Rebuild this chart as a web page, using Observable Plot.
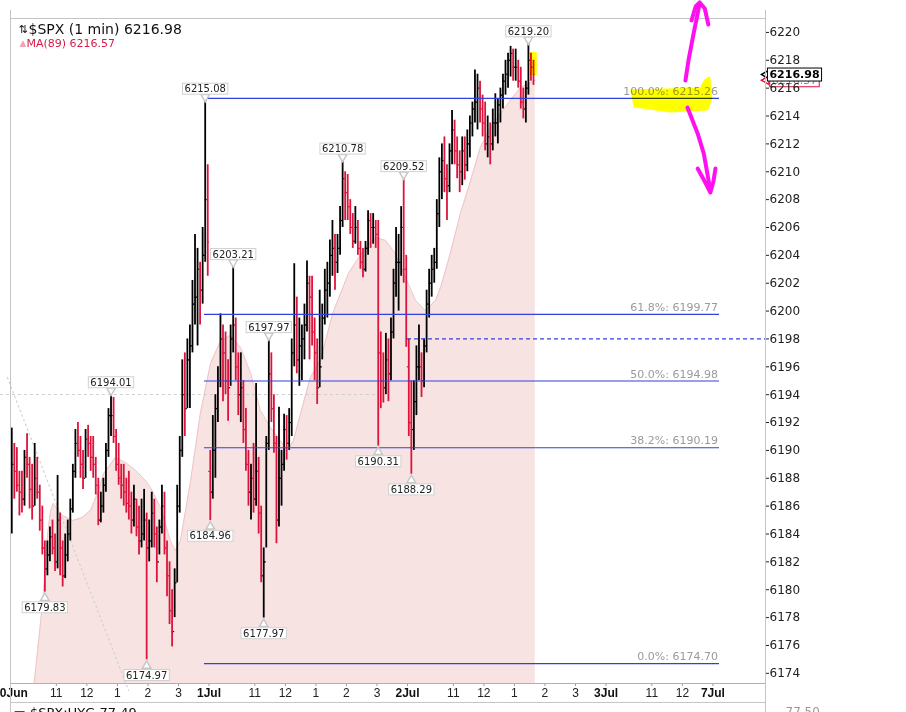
<!DOCTYPE html>
<html><head><meta charset="utf-8">
<script src="https://cdn.jsdelivr.net/npm/d3@7"></script>
<script src="https://cdn.jsdelivr.net/npm/@observablehq/plot@0.6"></script>
<style>
html,body{margin:0;padding:0;background:#fff;}
#chart{width:906px;height:712px;overflow:hidden;position:relative;}
#chart svg{display:block;}
</style></head><body><div id="chart"></div>
<script>
// ---------- data (x = trading minutes since 30 Jun 9:30, y = price) ----------
const dayStarts = [0, 390, 780];          // session starts: 30 Jun, 1 Jul, 2 Jul
const dayOpens = [6188.0, 6188.5, 6196.0];
const barMinutes = 5;
// [high, low, close] per 5-minute bar
const jun30Bars = [
 [6191.6,6184.0,6189.0],[6190.5,6186.5,6188.5],[6190.2,6187.0,6187.5],[6188.5,6185.3,6187.0],
 [6188.5,6185.5,6186.5],[6190.0,6186.0,6189.5],[6191.2,6188.0,6189.0],[6189.5,6185.8,6187.2],
 [6189.0,6185.0,6186.0],[6190.5,6186.0,6188.0],[6189.5,6186.5,6187.0],[6187.5,6184.2,6185.0],
 [6186.0,6182.5,6183.0],[6183.5,6179.83,6181.5],[6183.5,6181.0,6182.5],[6184.5,6182.0,6183.8],
 [6185.0,6182.5,6183.0],[6184.0,6181.3,6182.0],[6188.2,6181.5,6185.0],[6185.5,6181.0,6183.0],
 [6183.5,6180.2,6181.0],[6184.0,6180.8,6182.5],[6185.0,6182.0,6184.0],[6186.5,6183.5,6185.8],
 [6189.0,6185.5,6188.5],[6191.5,6188.0,6190.5],[6192.0,6189.5,6190.0],[6191.0,6188.0,6189.0],
 [6190.0,6187.2,6188.0],[6191.5,6188.0,6190.8],[6191.8,6189.5,6190.5],[6191.0,6188.5,6189.5],
 [6191.0,6188.0,6189.0],[6189.5,6186.8,6187.5],[6188.0,6184.6,6185.0],[6187.0,6184.8,6186.0],
 [6188.0,6185.5,6187.5],[6190.5,6187.0,6190.0],[6193.0,6189.5,6192.5],[6194.01,6191.0,6192.5],
 [6193.8,6190.5,6191.0],[6191.5,6188.5,6189.0],[6190.5,6187.5,6188.0],[6189.0,6186.5,6187.5],
 [6189.0,6186.0,6187.0],[6188.0,6185.5,6186.2],[6188.5,6185.0,6186.0],[6187.0,6184.0,6185.0],
 [6187.5,6184.5,6186.5],[6186.5,6183.8,6184.5],[6186.0,6182.5,6183.5],[6186.5,6183.0,6184.0],
 [6187.2,6183.5,6185.0],[6185.5,6174.97,6183.0],[6185.0,6182.0,6183.5],[6187.0,6183.0,6185.5],
 [6186.5,6183.0,6184.0],[6184.5,6180.5,6182.0],[6185.0,6182.5,6184.5],[6187.5,6184.0,6186.0],
 [6187.0,6182.5,6183.0],[6183.5,6179.5,6181.0],[6182.0,6177.5,6178.5],[6180.0,6175.9,6177.0],
 [6181.5,6178.0,6180.5],[6187.5,6180.5,6186.0],[6191.0,6185.5,6190.0],[6196.5,6189.5,6194.0],
 [6197.0,6191.0,6193.0],[6198.0,6193.0,6196.5],[6199.0,6193.0,6197.5],[6202.2,6197.0,6200.5],
 [6205.5,6199.0,6201.0],[6204.5,6197.5,6203.0],[6203.5,6199.0,6201.5],[6206.0,6200.5,6204.0],
 [6215.08,6203.5,6208.0],[6210.5,6202.5,6204.95]
];
const jul1Bars = [
 [6190.0,6184.96,6187.0],[6192.5,6186.5,6190.0],[6194.0,6188.0,6193.0],[6196.0,6192.0,6195.0],
 [6199.8,6194.5,6198.0],[6199.0,6193.5,6197.0],[6198.5,6194.0,6195.0],[6196.5,6192.1,6194.5],
 [6199.0,6194.6,6198.0],[6203.21,6197.0,6199.0],[6199.5,6195.0,6196.0],[6197.0,6192.5,6194.0],
 [6197.0,6192.0,6194.5],[6195.0,6190.5,6191.5],[6193.0,6188.5,6189.0],[6190.0,6186.0,6187.0],
 [6189.0,6185.0,6188.0],[6190.5,6185.5,6186.5],[6194.8,6186.0,6188.5],[6189.5,6184.0,6185.5],
 [6186.0,6180.5,6181.0],[6183.0,6177.97,6182.0],[6191.0,6183.0,6190.5],[6197.97,6190.0,6195.5],
 [6197.0,6192.0,6193.0],[6194.0,6189.8,6190.5],[6191.0,6183.3,6185.0],[6193.1,6184.5,6188.0],
 [6190.0,6186.0,6189.0],[6192.6,6188.5,6191.5],[6192.5,6189.3,6190.5],[6193.0,6190.0,6192.0],
 [6198.0,6191.0,6197.0],[6203.4,6196.0,6199.0],[6201.0,6195.5,6196.5],[6199.5,6194.6,6197.5],
 [6199.0,6195.0,6198.0],[6200.5,6196.5,6199.0],[6203.6,6198.5,6202.0],[6202.5,6196.5,6201.0],
 [6202.5,6197.5,6198.5],[6199.5,6195.0,6197.0],[6198.0,6193.3,6194.5],[6201.5,6194.5,6196.0],
 [6200.5,6196.5,6199.5],[6203.0,6199.0,6201.5],[6203.5,6199.5,6202.0],[6205.1,6201.0,6204.0],
 [6206.5,6202.5,6204.5],[6205.5,6201.5,6203.5],[6205.5,6202.7,6204.5],[6207.5,6204.0,6206.5],
 [6210.78,6206.0,6209.5],[6210.0,6206.5,6208.5],[6209.8,6206.5,6207.5],[6208.0,6205.5,6206.0],
 [6207.0,6204.5,6205.0],[6207.5,6204.8,6206.0],[6206.5,6204.0,6204.5],[6205.0,6203.0,6203.5],
 [6204.5,6202.4,6203.0],[6205.0,6202.8,6204.5],[6207.2,6204.0,6206.5],[6207.0,6204.5,6206.0],
 [6207.0,6204.8,6206.0],[6206.5,6204.5,6205.5],[6206.5,6190.31,6197.0],[6198.5,6193.0,6195.0],
 [6197.0,6193.4,6194.5],[6198.4,6194.0,6196.5],[6198.0,6193.5,6195.5],[6199.5,6195.0,6198.5],
 [6203.0,6198.0,6202.0],[6206.0,6201.0,6203.5],[6205.5,6200.0,6203.5],[6207.5,6202.5,6206.0],
 [6209.52,6202.0,6203.0],[6204.0,6197.4,6198.0]
];
const jul2Bars = [
 [6198.0,6191.0,6192.0],[6195.0,6188.29,6191.5],[6195.0,6190.0,6193.5],[6197.5,6192.5,6196.0],
 [6199.0,6195.0,6196.0],[6197.0,6193.8,6195.0],[6198.0,6194.5,6197.5],[6201.5,6197.0,6200.5],
 [6203.0,6199.5,6202.0],[6204.0,6201.0,6203.0],[6204.5,6202.0,6203.5],[6208.0,6203.0,6207.0],
 [6211.0,6206.0,6210.0],[6212.0,6208.0,6210.8],[6212.5,6208.5,6209.5],[6210.5,6206.5,6209.0],
 [6212.0,6208.5,6211.5],[6214.4,6210.5,6213.0],[6213.7,6210.5,6211.5],[6212.5,6209.5,6210.5],
 [6211.5,6208.5,6210.0],[6212.5,6209.0,6211.5],[6212.5,6209.4,6210.5],[6213.0,6210.0,6212.0],
 [6214.0,6211.0,6213.5],[6215.0,6212.5,6214.5],[6217.3,6213.5,6215.0],[6217.0,6213.0,6216.0],
 [6216.5,6213.5,6214.5],[6215.5,6212.5,6213.5],[6215.0,6211.5,6212.0],[6214.0,6211.0,6212.5],
 [6213.5,6210.5,6212.0],[6214.5,6211.5,6213.5],[6215.6,6212.5,6213.5],[6215.2,6212.0,6214.8],
 [6216.0,6213.5,6215.5],[6217.0,6214.5,6216.5],[6218.0,6215.5,6217.0],[6218.5,6216.0,6218.0],
 [6219.0,6216.8,6218.5],[6218.8,6216.5,6217.5],[6218.8,6216.5,6217.5],[6218.0,6216.0,6216.5],
 [6217.5,6214.5,6215.0],[6216.0,6213.8,6214.5],[6216.5,6213.5,6216.0],[6219.20,6215.5,6218.0],
 [6218.5,6216.5,6217.5],[6218.0,6216.2,6216.98]
];

const maMinutes = [40,45,65,73,79,84,102,122,141,157,171,183,206,226,246,265,275,295,314,324,334,354,373,393,413,432,452,472,491,511,530,544,556,570,589,609,633,664,697,717,737,756,776,796,815,835,845,864,884,904,923,943,963,982,1002,1031];
const maValues = [6172.2,6172.76,6179.73,6184.03,6185.69,6186.19,6185.33,6184.97,6185.18,6185.69,6186.91,6188.34,6189.49,6189.13,6188.56,6187.84,6187.34,6185.9,6183.53,6182.81,6183.53,6187.84,6192.65,6196.24,6197.89,6198.25,6197.39,6195.52,6192.86,6191.64,6190.71,6189.99,6190.71,6192.65,6195.23,6196.45,6199.83,6202.7,6204.57,6205.28,6205.07,6204.13,6202.41,6200.76,6200.04,6200.76,6201.69,6204.13,6207.01,6209.37,6211.74,6213.18,6214.19,6215.12,6216.05,6216.57];

const fibLevels = [6174.70, 6190.19, 6194.98, 6199.77, 6215.26];
const fibLabels = ["0.0%: 6174.70", "38.2%: 6190.19", "50.0%: 6194.98", "61.8%: 6199.77", "100.0%: 6215.26"];
const fibRange = [381, 1393];
const prevClose = 6198.0;
const prevCloseFrom = 780;

const extremeMinutes = [67.5, 197.5, 267.5, 382.5, 392.5, 437.5, 497.5, 507.5, 652.5, 722.5, 772.5, 787.5, 1017.5];
const extremePrices = [6179.83, 6194.01, 6174.97, 6215.08, 6184.96, 6203.21, 6177.97, 6197.97, 6210.78, 6190.31, 6209.52, 6188.29, 6219.20];
const extremeIsHigh = [false, true, false, true, false, true, false, true, true, false, true, false, true];

const lastPrice = 6216.98;
const lastMA = 6216.57;

const xTickMinutes = [0, 90, 150, 210, 270, 330, 390, 480, 540, 600, 660, 720, 780, 870, 930, 990, 1050, 1110, 1170, 1260, 1320, 1380];
const xTickLabels = ["30Jun","11","12","1","2","3","1Jul","11","12","1","2","3","2Jul","11","12","1","2","3","3Jul","11","12","7Jul"];
const xTickIsDate = [true,false,false,false,false,false,true,false,false,false,false,false,true,false,false,false,false,false,true,false,false,true];
const yTicks = [6174,6176,6178,6180,6182,6184,6186,6188,6190,6192,6194,6196,6198,6200,6202,6204,6206,6208,6210,6212,6214,6216,6218,6220];

// gray dotted guides
const dotLevel = 6194.01, dotRange = [-20, 723];
const diagMinutes = [-6, 232], diagPrices = [6195.23, 6172.77];

// hand-drawn annotations (in data units)
const yellowMinutes = [1220, 1356, 1364, 1373, 1377, 1369, 1297, 1226, 1220];
const yellowPrices = [6215.83, 6215.98, 6216.55, 6216.77, 6215.26, 6214.47, 6214.33, 6214.68, 6215.83];
const lastBarHighlight = {m1: 1022, m2: 1035, p1: 6216.9, p2: 6218.55};
const upShaftMinutes = [1326, 1332, 1342, 1350, 1354], upShaftPrices = [6216.55, 6217.99, 6219.92, 6221.36, 6222.08];
const upHeadMinutes = [1338, 1346, 1354, 1364, 1371], upHeadPrices = [6220.86, 6221.86, 6222.15, 6221.72, 6220.57];
const dnShaftMinutes = [1330, 1350, 1362, 1369, 1375], dnShaftPrices = [6214.61, 6212.75, 6211.31, 6209.88, 6208.65];
const dnHeadMinutes = [1350, 1364, 1375, 1381, 1385], dnHeadPrices = [6210.23, 6209.30, 6208.51, 6209.30, 6210.23];

// ---------- build tables ----------
const bars = [];
[jun30Bars, jul1Bars, jul2Bars].forEach((day, di) => {
  let prev = dayOpens[di];
  day.forEach(([h, l, c], i) => {
    bars.push({m: dayStarts[di] + i * barMinutes + barMinutes / 2, h, l, o: prev, c});
    prev = c;
  });
});
const barColor = d => d.c >= d.o ? "#000000" : "#dc143c";
const ma = maMinutes.map((m, i) => ({m, v: maValues[i]}));
const extremes = extremeMinutes.map((m, i) => ({m, p: extremePrices[i], hi: extremeIsHigh[i]}));
const xTicks = xTickMinutes.map((m, i) => ({m, label: xTickLabels[i], bold: xTickIsDate[i]}));
const yellow = yellowMinutes.map((m, i) => ({m, p: yellowPrices[i]}));
const pen = [];
[[upShaftMinutes, upShaftPrices], [upHeadMinutes, upHeadPrices], [dnShaftMinutes, dnShaftPrices], [dnHeadMinutes, dnHeadPrices]]
  .forEach(([ms, ps], s) => ms.forEach((m, i) => pen.push({s, m, p: ps[i]})));
const diag = diagMinutes.map((m, i) => ({m, p: diagPrices[i]}));

const xMax = 1483.3;
const yDom = [6173.27, 6221.0];
const frameGray = "#c4c4c4";
const blue = "#3340e0";
const red = "#dc143c";

const chart = Plot.plot({
  width: 906, height: 712,
  marginLeft: 10, marginRight: 141, marginTop: 18, marginBottom: 29,
  x: {domain: [0, xMax], axis: null},
  y: {domain: yDom, axis: null},
  style: {fontFamily: "'DejaVu Sans', sans-serif", background: "#fff"},
  marks: [
    // MA(89) area
    Plot.areaY(ma, {x: "m", y1: yDom[0], y2: "v", fill: "#f8e3e3", clip: true}),
    Plot.line(ma, {x: "m", y: "v", stroke: "#f0c4c9", strokeWidth: 1, clip: true}),
    // gray dotted guides
    Plot.ruleY([dotLevel], {x1: dotRange[0], x2: dotRange[1], stroke: "#cdcdcd", strokeDasharray: "3,3"}),
    Plot.line(diag, {x: "m", y: "p", stroke: "#d0d0d0", strokeDasharray: "1.5,3.5", strokeWidth: 1.2}),
    // price bars
    Plot.ruleX(bars, {x: "m", y1: "l", y2: "h", stroke: barColor, strokeWidth: 1.8, clip: true}),
    Plot.ruleY(bars, {y: "o", x1: d => d.m - 3, x2: "m", stroke: barColor, strokeWidth: 1.2, clip: true}),
    Plot.ruleY(bars, {y: "c", x1: "m", x2: d => d.m + 3, stroke: barColor, strokeWidth: 1.2, clip: true}),
    // fibonacci retracement
    Plot.ruleY(fibLevels, {x1: fibRange[0], x2: fibRange[1], stroke: blue, strokeWidth: 1.2}),
    Plot.text(fibLevels, {x: fibRange[1] - 3, y: d => d, text: (d, i) => fibLabels[i], textAnchor: "end", dy: -7, fill: "#9a9a9a", fontSize: 11}),
    Plot.ruleY([prevClose], {x1: prevCloseFrom, x2: xMax, stroke: blue, strokeWidth: 1.2, strokeDasharray: "4,3"}),
    // hand-drawn highlight
    Plot.line(yellow, {x: "m", y: "p", fill: "#ffff00", stroke: "#ffff00", strokeWidth: 2, mixBlendMode: "multiply"}),
    Plot.rect([lastBarHighlight], {x1: "m1", x2: "m2", y1: "p1", y2: "p2", fill: "#ffff00", mixBlendMode: "multiply"}),
    // extreme labels
    Plot.dot(extremes.filter(d => d.hi), {x: "m", y: "p", symbol: "triangle", r: 3.2, rotate: 180, dy: -4, fill: "white", stroke: "#c8c8c8"}),
    Plot.dot(extremes.filter(d => !d.hi), {x: "m", y: "p", symbol: "triangle", r: 3.2, dy: 6, fill: "white", stroke: "#c8c8c8"}),
    Plot.text(extremes.filter(d => d.hi), {x: "m", y: "p", text: d => d.p.toFixed(2), dy: -12, fontSize: 10, fill: "#222", ariaDescription: "hilo"}),
    Plot.text(extremes.filter(d => !d.hi), {x: "m", y: "p", text: d => d.p.toFixed(2), dy: 15.5, fontSize: 10, fill: "#222", ariaDescription: "hilo"}),
    // right-hand price tags
    Plot.dot([lastMA], {x: xMax, y: d => d, symbol: "triangle", r: 3.2, rotate: -90, dx: 1, fill: "white", stroke: red}),
    Plot.text([lastMA], {x: xMax, y: d => d, text: d => d.toFixed(2), dx: 29, fontSize: 11, fill: "#888", ariaDescription: "tagma"}),
    Plot.dot([lastPrice], {x: xMax, y: d => d, symbol: "triangle", r: 3.2, rotate: -90, dx: 1, fill: "white", stroke: "#000"}),
    Plot.text([lastPrice], {x: xMax, y: d => d, text: d => d.toFixed(2), dx: 29, fontSize: 11, fontWeight: "bold", fill: "#000", ariaDescription: "taglast"}),
    // axes
    Plot.axisY({anchor: "right", ticks: yTicks, tickSize: 3, tickPadding: 1, tickFormat: d => String(d), label: null, fontSize: 12, color: "#222"}),
    Plot.axisX({anchor: "bottom", ticks: xTickMinutes, tickSize: 3, tickFormat: () => "", label: null, color: "#999"}),
    Plot.text(xTicks.filter(d => !d.bold), {x: "m", text: "label", frameAnchor: "bottom", dy: 10, lineAnchor: "middle", fontSize: 12, fontFamily: "'Liberation Sans', Arial, sans-serif", fill: "#222"}),
    Plot.text(xTicks.filter(d => d.bold), {x: "m", text: "label", frameAnchor: "bottom", dy: 10, lineAnchor: "middle", fontSize: 12, fontWeight: "bold", fontFamily: "'Liberation Sans', Arial, sans-serif", fill: "#111"}),
    // frame
    Plot.ruleY([yDom[1]], {stroke: frameGray}),
    Plot.ruleY([yDom[0]], {stroke: "#b0b0b0"}),
    Plot.ruleX([0, xMax], {y1: 6221.57, y2: 6170.9, stroke: frameGray}),
    Plot.ruleY([6171.91], {x1: 0, x2: xMax, stroke: frameGray}),
    // legend
    Plot.text(["\u21C5"], {frameAnchor: "top-left", dx: 8, dy: 11, lineAnchor: "middle", fontSize: 11, fill: "#111"}),
    Plot.text(["$SPX (1 min) 6216.98"], {frameAnchor: "top-left", dx: 18, dy: 11, lineAnchor: "middle", textAnchor: "start", fontSize: 14, fill: "#111"}),
    Plot.text(["\u25B2"], {frameAnchor: "top-left", dx: 9, dy: 25, lineAnchor: "middle", fontSize: 9, fill: "#f0a6b0"}),
    Plot.text(["MA(89) 6216.57"], {frameAnchor: "top-left", dx: 16, dy: 25, lineAnchor: "middle", textAnchor: "start", fontSize: 11, fill: "#d81b46"}),
    // lower panel (cut off)
    Plot.text(["\u25AC $SPX:HYG 77.49"], {frameAnchor: "bottom-left", dx: 3, dy: 29, lineAnchor: "middle", textAnchor: "start", fontSize: 13, fill: "#111"}),
    Plot.text(["77.50"], {frameAnchor: "bottom-right", dx: 20, dy: 29, lineAnchor: "middle", textAnchor: "start", fontSize: 12, fill: "#999"}),
    // magenta pen strokes
    Plot.line(pen, {x: "m", y: "p", z: "s", stroke: "#ff10f0", strokeWidth: 4, strokeLinecap: "round", strokeLinejoin: "round"})
  ]
});
document.getElementById("chart").append(chart);

// label boxes behind text
function boxify(desc, stroke, padX, padY) {
  chart.querySelectorAll(`g[aria-description="${desc}"] text`).forEach(t => {
    const b = t.getBBox();
    const r = document.createElementNS("http://www.w3.org/2000/svg", "rect");
    r.setAttribute("x", b.x - padX);
    r.setAttribute("y", b.y - padY);
    r.setAttribute("width", b.width + 2 * padX);
    r.setAttribute("height", b.height + 2 * padY);
    r.setAttribute("fill", "white");
    r.setAttribute("stroke", stroke);
    r.setAttribute("stroke-width", "1");
    const tr = t.getAttribute("transform");
    if (tr) r.setAttribute("transform", tr);
    t.parentNode.insertBefore(r, t);
  });
}
boxify("hilo", "#d0d0d0", 2, 0);
boxify("tagma", red, 2, 0);
boxify("taglast", "#000", 2, 0);
</script>
</body></html>
